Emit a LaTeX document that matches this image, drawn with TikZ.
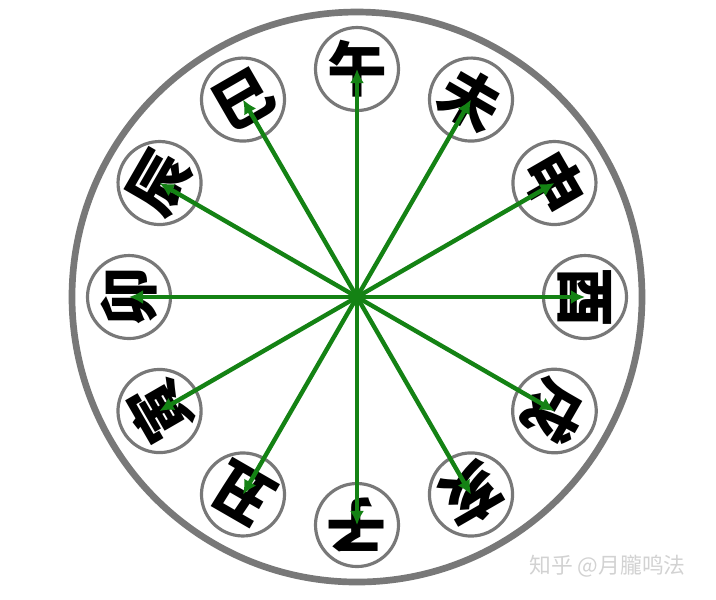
\documentclass[tikz,border=0pt]{standalone}
\usepackage{fontspec}
\newfontfamily\cjk{Noto Sans CJK SC}
\usetikzlibrary{calc}
\usetikzlibrary{arrows.meta}
\definecolor{ringgray}{RGB}{120,120,120}
\definecolor{spoke}{RGB}{20,130,20}
\tikzset{
  branch/.style={circle, draw=ringgray, line width=0.9pt, fill=white, minimum size=0.83cm, inner sep=0pt, font=\cjk\bfseries\fontsize{17}{17}\selectfont},
  spokeline/.style={draw=spoke, line width=1.25pt, -{Latex[length=4pt,width=4pt]}}
}

\begin{document}
\begin{tikzpicture}
      \useasboundingbox (0,0) rectangle (7.16,-5.99);
      \coordinate (o) at (3.57,-2.97);
      % outer ring
      \draw[ringgray, line width=1.9pt] (o) circle (2.85cm);
      % twelve branches
      \foreach \a/\ch [count=\i] in {90/午, 60/未, 30/申, 0/酉, -30/戌, -60/亥, -90/子, -120/丑, -150/寅, 180/卯, 150/辰, 120/巳}
        \node[branch, rotate=\a-90] (b\i) at ($(o)+(\a:2.28)$) {\ch};
      % spokes
      \foreach \i in {1,...,12}
        \draw[spokeline] (o) -- (b\i.center);
      \fill[spoke] (o) circle (0.06);
      \node[text=gray!35, font=\cjk\fontsize{6.2}{6.2}\selectfont, anchor=east] (mark) at (6.98,-5.66) {知乎 @月朧鸣法};
\end{tikzpicture}
\end{document}
